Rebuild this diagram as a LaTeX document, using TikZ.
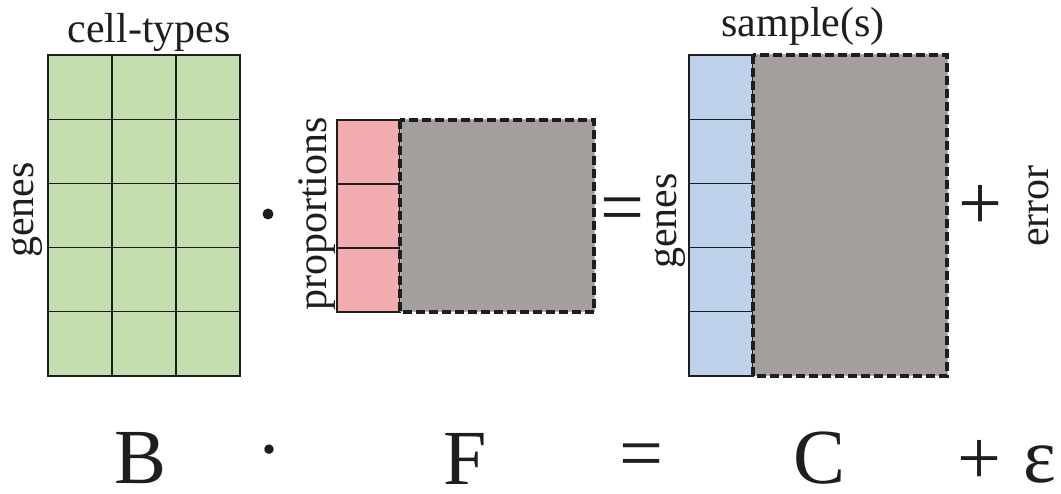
\documentclass[tikz,border=0pt]{standalone}
\usepackage{fontspec}
\setmainfont{Liberation Serif}
\definecolor{mgreen}{HTML}{C4DEAD}
\definecolor{mpink}{HTML}{F3ADB1}
\definecolor{mgray}{HTML}{A49F9C}
\definecolor{mblue}{HTML}{BED2EC}
\definecolor{ink}{HTML}{1E1E1E}
\begin{document}
\begin{tikzpicture}[x=1pt,y=-1pt,
  cellbox/.style={draw=ink, line width=1.3pt, inner sep=0pt, outer sep=0pt, anchor=north west},
  gridline/.style={draw=ink, line width=1.3pt},
  dashbox/.style={fill=mgray, draw=mgray!80!white, line width=1pt, inner sep=0pt, outer sep=0pt, anchor=north west},
  dashedge/.style={draw=ink, line width=3.6pt, dash pattern=on 9pt off 4pt},
  lbl/.style={font=\fontsize{42}{50}\selectfont, text=ink, inner sep=0pt},
  big/.style={font=\fontsize{78}{80}\selectfont, text=ink, inner sep=0pt},
]
\useasboundingbox (0,0) rectangle (1061,494);

% ---------- B matrix ----------
\node[cellbox, fill=mgreen, minimum width=192pt, minimum height=321pt] (Bmat) at (48,55) {};
\foreach \i in {1,2} \draw[gridline] (48+64*\i,55) -- (48+64*\i,376);
\foreach \j in {1,...,4} \draw[gridline] (48,55+64.2*\j) -- (240,55+64.2*\j);
\node[lbl, anchor=base] (celltypes) at (149,43) {cell-types};
\node[lbl, rotate=90, anchor=base] (genesB) at (33,210) {genes};

\node[circle, fill=ink, inner sep=0pt, minimum size=11pt] (dotTop) at (268,214) {};

% ---------- F matrix ----------
\node[cellbox, fill=mpink, minimum width=63pt, minimum height=192pt] (Fcol) at (337,120) {};
\foreach \j in {1,2} \draw[gridline] (337,120+64*\j) -- (400,120+64*\j);
\node[dashbox, minimum width=194pt, minimum height=192pt] (Fbox) at (400,120) {};
\draw[dashedge] (Fbox.north west) rectangle (Fbox.south east);
\node[lbl, rotate=90, anchor=base] (props) at (326,214) {proportions};

\node[big] (eqTop) at (622,215.5) {=};

% ---------- C matrix ----------
\node[cellbox, fill=mblue, minimum width=64pt, minimum height=321pt] (Ccol) at (689,55) {};
\foreach \j in {1,...,4} \draw[gridline] (689,55+64.2*\j) -- (753,55+64.2*\j);
\node[dashbox, minimum width=194pt, minimum height=321pt] (Cbox) at (753,55) {};
\draw[dashedge] (Cbox.north west) rectangle (Cbox.south east);
\node[lbl, anchor=base] (samples) at (803,37) {sample(s)};
\node[lbl, rotate=90, anchor=base] (genesC) at (676,221) {genes};

\node[big] (plusTop) at (980,207) {+};
\node[lbl, rotate=90, anchor=base] (error) at (1048,206) {error};

% ---------- bottom equation ----------
\node[big] (Bsym) at (141,458.5) {B};
\node[big] (dotBot) at (269,460) {·};
\node[big] (Fsym) at (465,458.5) {F};
\node[big] (eqBot) at (641,462) {=};
\node[big] (Csym) at (820,458.5) {C};
\node[big] (plusBot) at (979,462) {+};
\node[big] (eps) at (1040,465) {ε};
\end{tikzpicture}
\end{document}
